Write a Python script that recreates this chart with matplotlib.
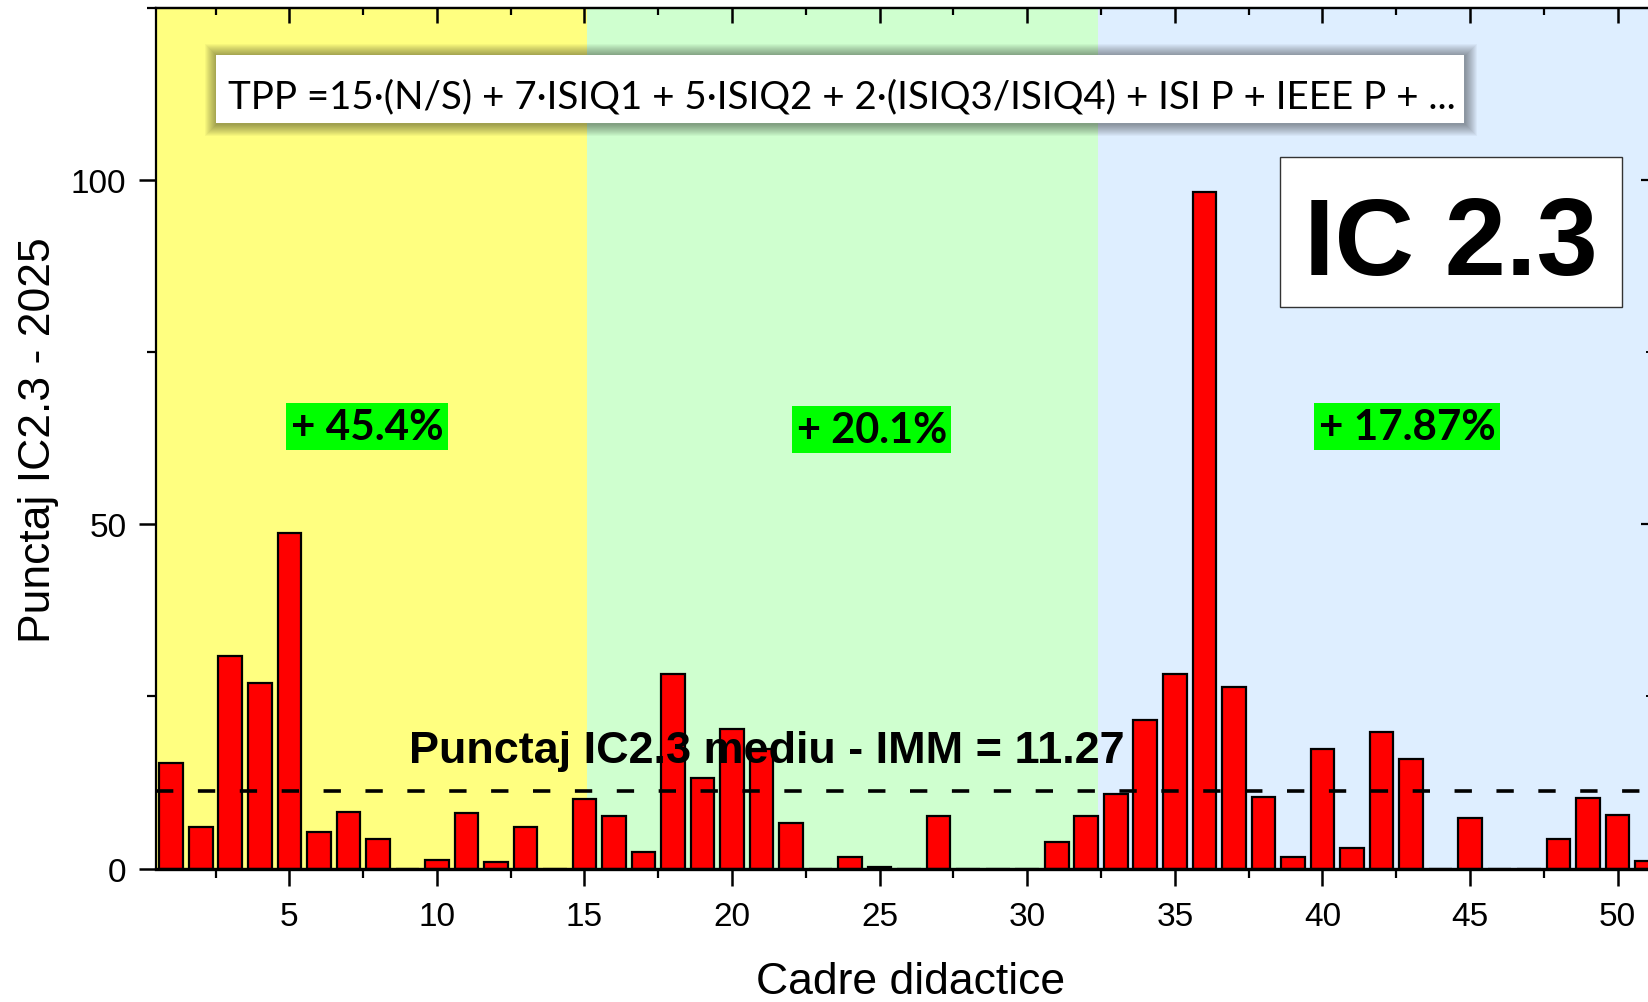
import matplotlib
matplotlib.use("Agg")
import matplotlib.pyplot as plt
from matplotlib.patches import Rectangle
from matplotlib.ticker import MultipleLocator

# ---------------- data ----------------
teachers = list(range(1, 52))
scores = [15.4, 6.1, 30.8, 27.0, 48.7, 5.3, 8.2, 4.3, 0.0, 1.2,
          8.1, 0.9, 6.0, 0.0, 10.1, 7.6, 2.4, 28.2, 13.2, 20.3,
          17.4, 6.6, 0.0, 1.7, 0.2, 0.0, 7.7, 0.0, 0.0, 0.0,
          3.8, 7.7, 10.9, 21.6, 28.3, 98.3, 26.3, 10.4, 1.7, 17.3,
          3.0, 19.9, 15.9, 0.0, 7.4, 0.0, 0.0, 4.3, 10.3, 7.8, 1.1]
mean_score = 11.27
region_edges = [0.47, 15.1, 32.4, 51.2]
region_colors = ["#FFFF80", "#CFFFCF", "#DEEEFF"]
region_labels = ["+ 45.4%", "+ 20.1%", "+ 17.87%"]
xticks_major = [5, 10, 15, 20, 25, 30, 35, 40, 45, 50]
yticks_major = [0, 50, 100]
mean_label = "Punctaj IC2.3 mediu - IMM = 11.27"
formula = "TPP =15\u00b7(N/S) + 7\u00b7ISIQ1 + 5\u00b7ISIQ2 + 2\u00b7(ISIQ3/ISIQ4) + ISI P + IEEE P + ..."
title_box = "IC 2.3"
xlabel = "Cadre didactice"
ylabel = "Punctaj IC2.3 - 2025"

W, H = 1649, 1003
fig = plt.figure(figsize=(W / 100, H / 100), dpi=100)
fig.patch.set_facecolor("white")


def fx(x):
    return x / W


def fy(y):
    return 1 - y / H


ax_l, ax_r, ax_t, ax_b = 155.6, 1653.0, 8.8, 869.6
ax = fig.add_axes([fx(ax_l), fy(ax_b), fx(ax_r - ax_l), (ax_b - ax_t) / H])
ax.set_xlim(region_edges[0], region_edges[-1])
ax.set_ylim(0, 125)

for i, c in enumerate(region_colors):
    ax.axvspan(region_edges[i], region_edges[i + 1], color=c, lw=0, zorder=0)

ax.bar(teachers, scores, width=0.8, color="#FF0000", edgecolor="black",
       linewidth=1.6, zorder=2)
ax.axhline(mean_score, color="black", lw=2.6, dashes=(4.8, 6.8), zorder=3)

ARIAL = ["Liberation Sans", "DejaVu Sans"]
CALIBRI = ["Lato", "DejaVu Sans"]

# spines & ticks
for s in ["left", "top", "right"]:
    ax.spines[s].set_linewidth(1.6)
ax.spines["bottom"].set_linewidth(2.4)
for s in ax.spines.values():
    s.set_zorder(5)
ax.xaxis.set_major_locator(plt.FixedLocator(xticks_major))
ax.xaxis.set_minor_locator(MultipleLocator(2.5))
ax.yaxis.set_major_locator(plt.FixedLocator(yticks_major))
ax.yaxis.set_minor_locator(MultipleLocator(25))
ax.tick_params(axis="both", which="major", direction="out", length=12, width=1.8,
               labelsize=24, top=False, right=False)
ax.tick_params(axis="x", which="major", pad=11)
ax.tick_params(axis="y", which="major", pad=9)
ax.tick_params(axis="both", which="minor", direction="out", length=6.5, width=1.6,
               top=False, right=False)
for lab in ax.get_xticklabels() + ax.get_yticklabels():
    lab.set_family(ARIAL)

secx = ax.secondary_xaxis("top")
secx.xaxis.set_major_locator(plt.FixedLocator(xticks_major))
secx.xaxis.set_minor_locator(MultipleLocator(2.5))
secx.tick_params(which="major", direction="in", length=11, width=1.8, labeltop=False)
secx.tick_params(which="minor", direction="in", length=5, width=1.6)
secx.spines["top"].set_linewidth(1.6)
secy = ax.secondary_yaxis("right")
secy.yaxis.set_major_locator(plt.FixedLocator(yticks_major))
secy.yaxis.set_minor_locator(MultipleLocator(25))
secy.tick_params(which="major", direction="in", length=9, width=1.6, labelright=False)
secy.tick_params(which="minor", direction="in", length=5, width=1.4)

# axis labels
fig.text(fx(50.5), fy(440), ylabel, rotation=90, rotation_mode="anchor",
         ha="center", va="baseline", fontsize=32, family=ARIAL)
fig.text(fx(910.6), fy(994), xlabel, ha="center", va="baseline",
         fontsize=32, family=ARIAL)

renderer = fig.canvas.get_renderer()


def fit_width(t, target):
    bb = t.get_window_extent(renderer=renderer)
    t.set_fontsize(t.get_fontsize() * target / bb.width)


# mean label
t = fig.text(fx(766.6), fy(763.4), mean_label, ha="center", va="baseline",
             fontsize=32, fontweight="bold", family=ARIAL, zorder=6)
fit_width(t, 717)

# percentage labels with green highlight
pct_centers = [(367, 427.5), (871.7, 430.6), (1407, 427.5)]
pct_widths = [152, 150, 176]
for lab, (cx, cy), tw in zip(region_labels, pct_centers, pct_widths):
    t = fig.text(fx(cx), fy(cy), lab, ha="center", va="center", fontsize=30,
                 fontweight="bold", family=CALIBRI, zorder=6,
                 bbox=dict(boxstyle="square,pad=0.1", fc="#00FF00", ec="none"))
    fit_width(t, tw)

# IC 2.3 box
bx0, bx1, by0, by1 = 1280, 1622, 158, 308
fig.patches.append(Rectangle((fx(bx0), fy(by1)), fx(bx1 - bx0), (by1 - by0) / H,
                             transform=fig.transFigure, fc="white", ec="#333333",
                             lw=1.0, zorder=5))
t = fig.text(fx(1451), fy(275.5), title_box, ha="center", va="baseline",
             fontsize=82, fontweight="bold", family=ARIAL, zorder=6)
fit_width(t, 294)

# formula box with soft shadow
fx0, fx1, fy0, fy1 = 215.6, 1463.7, 55.7, 124.0
for k in range(12, 0, -1):
    fig.patches.append(Rectangle((fx(fx0 - k + 1), fy(fy1 + k + 1)),
                                 fx(fx1 - fx0 + 2 * k), (fy1 - fy0 + 2 * k) / H,
                                 transform=fig.transFigure, fc="black", ec="none",
                                 alpha=0.035, zorder=5))
fig.patches.append(Rectangle((fx(fx0), fy(fy1)), fx(fx1 - fx0), (fy1 - fy0) / H,
                             transform=fig.transFigure, fc="white", ec="none",
                             zorder=5))
t = fig.text(fx(842), fy(97), formula, ha="center", va="center",
             fontsize=30, family=CALIBRI, zorder=6)
fit_width(t, 1222)

fig.savefig("out.png", dpi=100)
